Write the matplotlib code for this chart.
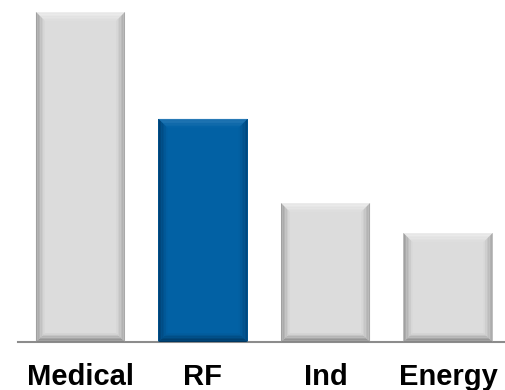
import numpy as np
import matplotlib
matplotlib.use("Agg")
import matplotlib.pyplot as plt
from matplotlib.patches import Polygon
from matplotlib.colors import to_rgb

categories = ["Medical", "RF", "Ind", "Energy"]
values = [100.0, 67.6, 42.1, 33.0]
highlight = "RF"

grey_face = "#dcdcdc"
blue_face = "#0261a4"

plt.rcParams['font.family'] = ['Liberation Sans', 'DejaVu Sans']

fig = plt.figure(figsize=[5.05, 3.9], dpi=100)
ax = fig.add_axes([18 / 505, 1 - 342 / 390, 1 - 18 / 505, 342 / 390])

x = np.arange(len(categories))
colors = [blue_face if c == highlight else grey_face for c in categories]
bars = ax.bar(x, values, width=0.727, color=colors, edgecolor="none", zorder=2)

ax.set_xlim(-0.51, 3.465)
ax.set_ylim(0, max(values) * 342 / 330)
ax.set_xticks([])
ax.set_yticks([])
for s in ["top", "right", "left"]:
    ax.spines[s].set_visible(False)
ax.spines["bottom"].set_color("#8c8c8c")
ax.spines["bottom"].set_linewidth(1.5)
ax.spines["bottom"].set_zorder(3)

# category names under the baseline
for xi, c in zip(x, categories):
    ax.text(xi, -43 / 342, c, transform=ax.get_xaxis_transform(), ha="center",
            va="baseline", fontsize=21, fontweight="bold", clip_on=False)


def mix(c1, c2, t):
    a = np.array(to_rgb(c1))
    b = np.array(to_rgb(c2))
    return tuple(a + (b - a) * t)


def bevel(bar, face, top, left, right, bottom, b=9, steps=6):
    # corners in pixels
    (x0, y0), (x1, y1) = ax.transData.transform(
        [(bar.get_x(), bar.get_y()), (bar.get_x() + bar.get_width(), bar.get_height())])
    for i in range(steps):
        o = b * i / steps
        n = b * (i + 1) / steps
        t = (i + 0.5) / steps
        sides = [
            ([(x0 + o, y1 - o), (x1 - o, y1 - o), (x1 - n, y1 - n), (x0 + n, y1 - n)], top),
            ([(x0 + o, y0 + o), (x0 + o, y1 - o), (x0 + n, y1 - n), (x0 + n, y0 + n)], left),
            ([(x1 - o, y0 + o), (x1 - o, y1 - o), (x1 - n, y1 - n), (x1 - n, y0 + n)], right),
            ([(x0 + o, y0 + o), (x1 - o, y0 + o), (x1 - n, y0 + n), (x0 + n, y0 + n)], bottom),
        ]
        for pts, edge in sides:
            fig.patches.append(Polygon(pts, closed=True, transform=None,
                                       facecolor=mix(edge, face, t), edgecolor="none",
                                       zorder=2.5, figure=fig))


for bar, c in zip(bars, categories):
    if c == highlight:
        bevel(bar, blue_face, "#2b7cb8", "#003e6e", "#00457a", "#00345c")
    else:
        bevel(bar, grey_face, "#eeeeee", "#9a9a9a", "#a4a4a4", "#7e7e7e")

fig.savefig("out.png", dpi=100)
